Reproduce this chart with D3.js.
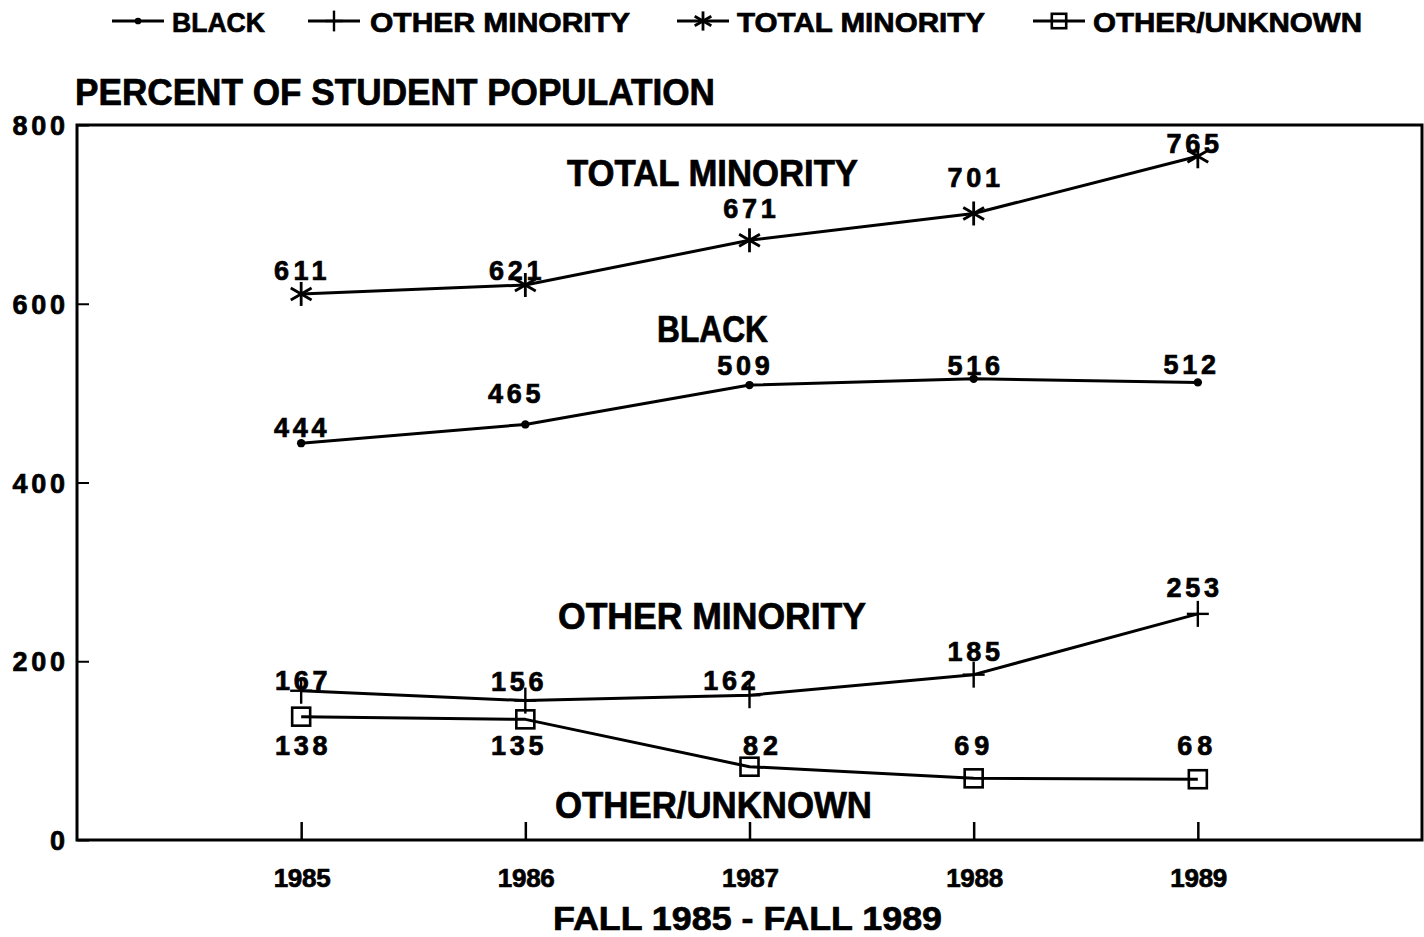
<!DOCTYPE html>
<html>
<head>
<meta charset="utf-8">
<script src="https://cdn.jsdelivr.net/npm/d3@7/dist/d3.min.js"></script>
<style>
  html, body { margin: 0; padding: 0; background: #fff; }
  svg { display: block; }
  text { font-family: "Liberation Sans", Arial, Helvetica, sans-serif; font-weight: bold; fill: #000; stroke: #000; stroke-width: 0.7px; }
</style>
</head>
<body>
<svg id="chart" width="1424" height="937"></svg>
<script>
// Fall enrollment, 1985-1989
const years = [1985, 1986, 1987, 1988, 1989];
const black = [444, 465, 509, 516, 512];
const otherMinority = [167, 156, 162, 185, 253];
const totalMinority = [611, 621, 671, 701, 765];
const otherUnknown = [138, 135, 82, 69, 68];
const yTicks = [0, 200, 400, 600, 800];

const seriesNames = ["BLACK", "OTHER MINORITY", "TOTAL MINORITY", "OTHER/UNKNOWN"];
const seriesValues = [black, otherMinority, totalMinority, otherUnknown];
const seriesMarkers = ["dot", "plus", "star", "square"];

// value-label nudges (pixels) relative to each point: [dx, dy]
const labelNudge = [
  [[-1, -6], [-11, -21], [-6, -10], [0, -4], [-8, -8]],
  [[0, -1], [-8, -10], [-20, -5], [0, -14], [-5, -17]],
  [[-1, -14], [-10, -5], [0, -22], [0, -26], [-5, -3]],
  [[0, 38], [-8, 36], [11, -12], [-2, -23], [-3, -24]]
];

const svg = d3.select("#chart");
const plotLeft = 77, plotRight = 1422, plotTop = 125, plotBottom = 840;

const x = d3.scaleLinear().domain([1984, 1990]).range([plotLeft, plotRight]);
const y = d3.scaleLinear().domain([0, 800]).range([plotBottom, plotTop]);

const ink = "#000";

// marker drawing
function drawMarker(g, type, cx, cy, scale = 1) {
  if (type === "dot") {
    g.append("circle").attr("cx", cx).attr("cy", cy).attr("r", 4.2 * scale).attr("fill", ink);
  } else if (type === "plus") {
    g.append("line").attr("x1", cx).attr("x2", cx).attr("y1", cy - 13 * scale).attr("y2", cy + 13 * scale)
      .attr("stroke", ink).attr("stroke-width", 2.4);
    g.append("line").attr("x1", cx - 11 * scale).attr("x2", cx + 11 * scale).attr("y1", cy).attr("y2", cy)
      .attr("stroke", ink).attr("stroke-width", 2.4);
  } else if (type === "star") {
    const r = 12 * scale;
    [90, 30, 150].forEach(a => {
      const t = a * Math.PI / 180;
      g.append("line")
        .attr("x1", cx - r * Math.cos(t)).attr("y1", cy - r * Math.sin(t))
        .attr("x2", cx + r * Math.cos(t)).attr("y2", cy + r * Math.sin(t))
        .attr("stroke", ink).attr("stroke-width", 2.8);
    });
  } else if (type === "square") {
    const s = 18 * scale;
    g.append("rect").attr("x", cx - s / 2).attr("y", cy - s / 2).attr("width", s).attr("height", s)
      .attr("fill", "none").attr("stroke", ink).attr("stroke-width", 2.6);
  }
}

// frame
svg.append("rect")
  .attr("x", plotLeft).attr("y", plotTop).attr("width", plotRight - plotLeft).attr("height", plotBottom - plotTop)
  .attr("fill", "none").attr("stroke", ink).attr("stroke-width", 3);

// y axis ticks and labels
const yAxis = svg.append("g").attr("transform", `translate(${plotLeft},0)`)
  .call(d3.axisRight(y).tickValues(yTicks).tickSize(12).tickFormat(""));
yAxis.select(".domain").remove();
yAxis.selectAll(".tick line").attr("stroke", ink).attr("stroke-width", 2);

svg.append("g").selectAll("text").data(yTicks).join("text")
  .attr("x", 65).attr("y", d => y(d) + 10)
  .attr("text-anchor", "end")
  .attr("font-size", 27)
  .attr("textLength", d => String(d).length * 17.5)
  .attr("lengthAdjust", "spacing")
  .text(d => d);

// x axis ticks and labels
const xAxis = svg.append("g").attr("transform", `translate(0,${plotBottom})`)
  .call(d3.axisTop(x).tickValues(years).tickSize(18).tickFormat(""));
xAxis.select(".domain").remove();
xAxis.selectAll(".tick line").attr("stroke", ink).attr("stroke-width", 2.5);

svg.append("g").selectAll("text").data(years).join("text")
  .attr("x", d => x(d) + 1).attr("y", 887)
  .attr("text-anchor", "middle")
  .attr("font-size", 26)
  .attr("textLength", 57)
  .attr("lengthAdjust", "spacing")
  .text(d => d);

// titles
svg.append("text").attr("x", 75).attr("y", 105).attr("font-size", 36)
  .attr("textLength", 640).attr("lengthAdjust", "spacingAndGlyphs")
  .text("PERCENT OF STUDENT POPULATION");

svg.append("text").attr("x", 553).attr("y", 930).attr("font-size", 34)
  .attr("textLength", 389).attr("lengthAdjust", "spacingAndGlyphs")
  .text("FALL 1985 - FALL 1989");

// series lines, markers and value labels
const line = d3.line().x((d, i) => x(years[i])).y(d => y(d));

seriesValues.forEach((vals, s) => {
  const g = svg.append("g");
  g.append("path").datum(vals)
    .attr("d", line)
    .attr("fill", "none").attr("stroke", ink).attr("stroke-width", 3)
    .attr("stroke-linejoin", "round");
  vals.forEach((v, i) => drawMarker(g, seriesMarkers[s], x(years[i]), y(v)));
  g.selectAll("text.val").data(vals).join("text")
    .attr("class", "val")
    .attr("x", (d, i) => x(years[i]) + labelNudge[s][i][0])
    .attr("y", (d, i) => y(d) + labelNudge[s][i][1])
    .attr("text-anchor", "middle")
    .attr("font-size", 27)
    .attr("textLength", d => String(d).length * 17.5)
    .attr("lengthAdjust", "spacing")
    .text(d => d);
});

// in-plot series names
const seriesTags = [
  { name: "TOTAL MINORITY", x: 567, y: 186, w: 291 },
  { name: "BLACK", x: 657, y: 342, w: 111 },
  { name: "OTHER MINORITY", x: 558, y: 629, w: 308 },
  { name: "OTHER/UNKNOWN", x: 555, y: 818, w: 317 }
];
svg.append("g").selectAll("text").data(seriesTags).join("text")
  .attr("x", d => d.x).attr("y", d => d.y)
  .attr("font-size", 36)
  .attr("textLength", d => d.w).attr("lengthAdjust", "spacingAndGlyphs")
  .text(d => d.name);

// legend
const legendItems = [
  { x0: 112, x1: 164, tx: 172, w: 93 },
  { x0: 308, x1: 360, tx: 370, w: 260 },
  { x0: 677, x1: 729, tx: 737, w: 248 },
  { x0: 1033, x1: 1085, tx: 1093, w: 269 }
];
const legend = svg.append("g");
legendItems.forEach((it, s) => {
  const ly = 21;
  legend.append("line").attr("x1", it.x0).attr("x2", it.x1).attr("y1", ly).attr("y2", ly)
    .attr("stroke", ink).attr("stroke-width", 3);
  drawMarker(legend, seriesMarkers[s], (it.x0 + it.x1) / 2, ly, 0.8);
  legend.append("text").attr("x", it.tx).attr("y", 32).attr("font-size", 27)
    .attr("textLength", it.w).attr("lengthAdjust", "spacingAndGlyphs")
    .text(seriesNames[s]);
});
</script>
</body>
</html>
